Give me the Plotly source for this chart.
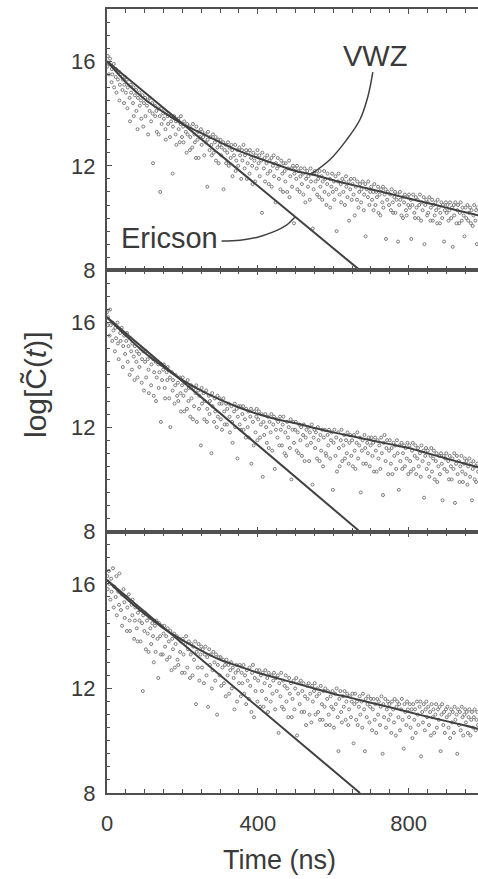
import plotly.graph_objects as go
from plotly.subplots import make_subplots

# ---------------- data ----------------
vwz_t = [0, 50, 100, 150, 200, 250, 300, 350, 400, 450, 500, 550, 600, 650, 700, 750, 800, 850, 900, 950, 1000]
vwz_y1 = [16.0, 15.2, 14.55, 14.05, 13.6, 13.25, 12.9, 12.57, 12.3, 12.05, 11.8, 11.65, 11.45, 11.27, 11.1, 10.93, 10.75, 10.58, 10.4, 10.22, 10.05]
vwz_y2 = [16.2, 15.5, 14.85, 14.3, 13.8, 13.4, 13.05, 12.75, 12.5, 12.3, 12.15, 11.97, 11.8, 11.65, 11.5, 11.35, 11.2, 11.0, 10.8, 10.6, 10.4]
vwz_y3 = [16.15, 15.45, 14.85, 14.3, 13.85, 13.45, 13.1, 12.85, 12.6, 12.4, 12.2, 12.0, 11.8, 11.63, 11.45, 11.28, 11.1, 10.92, 10.75, 10.58, 10.4]

ericson_t = [0, 671]
ericson_y1 = [16.0, 8.0]
ericson_y2 = [16.2, 8.0]
ericson_y3 = [16.15, 8.0]

vwz_leader_t = [705, 692, 671, 636, 591, 538]
vwz_leader_y = [15.58, 14.65, 13.77, 13.0, 12.23, 11.65]
eric_leader_t = [304, 353, 397, 441, 476, 498]
eric_leader_y = [9.12, 9.15, 9.26, 9.47, 9.73, 10.03]

pts1 = [(1,15.8),(2,16.2),(5,15.5),(6,15.9),(8,16.1),(12,15.2),(13,15.7),(14,15.5),(18,15.9),(19,15.0),(23,15.4),(24,15.7),(25,14.8),(29,15.3),(32,15.6),(33,14.5),(34,15.1),(37,15.5),(41,14.9),(42,15.3),(45,14.4),(46,15.1),(48,15.4),
(50,14.8),(53,15.3),(54,14.2),(55,15.0),(60,14.6),(61,13.7),(63,15.1),(64,14.8),(69,14.4),(70,15.0),(71,13.9),(74,14.7),(77,14.9),(78,14.1),(81,13.4),(82,14.6),(86,14.8),(87,14.3),(90,14.5),(91,13.8),(94,14.7),(96,13.5),(98,14.4),
(101,14.6),(102,13.9),(106,14.3),(108,14.5),(109,13.2),(113,14.1),(114,14.6),(117,13.7),(120,14.4),(121,14.0),(122,12.1),(127,14.3),(128,13.9),(131,14.1),(132,13.3),(136,14.2),(137,13.2),(140,13.9),(141,11.0),(144,14.2),(145,13.6),(149,14.0),
(151,13.8),(154,14.1),(155,13.4),(156,13.0),(161,13.9),(162,13.6),(164,14.0),(167,13.1),(170,13.7),(171,13.9),(174,11.7),(175,13.5),(178,13.9),(182,13.2),(183,13.7),(184,12.8),(189,13.8),(190,13.4),(193,12.9),(195,13.6),(196,13.9),(199,13.1),
(202,13.5),(203,12.9),(205,13.7),(209,13.3),(211,12.5),(213,13.6),(214,13.2),(219,13.5),(220,12.6),(221,13.1),(224,13.4),(226,12.7),(228,13.6),(232,13.2),(233,12.9),(236,12.3),(237,13.5),(240,13.0),(242,13.3),(243,12.3),(247,13.1),(249,13.4),
(251,12.8),(253,13.3),(255,13.1),(258,12.4),(261,13.2),(262,12.9),(266,11.2),(267,13.0),(268,13.3),(272,12.6),(274,13.1),(277,12.8),(278,12.4),(281,13.2),(283,12.5),(286,12.9),(288,13.1),(289,12.2),(293,12.7),(295,13.0),(296,12.1),(299,12.8),
(301,13.0),(303,12.4),(304,12.7),(308,12.9),(309,11.1),(312,12.6),(315,12.8),(316,12.1),(319,12.5),(321,12.9),(323,12.0),(325,12.7),(328,12.3),(330,12.8),(332,12.6),(333,11.6),(337,12.4),(340,12.8),(341,11.8),(343,12.2),(346,12.6),(348,12.0),
(351,12.7),(353,12.4),(356,11.5),(358,12.6),(359,12.2),(362,12.8),(365,11.9),(366,12.4),(369,12.6),(371,11.5),(373,12.1),(375,12.5),(378,11.7),(379,12.6),(382,12.3),(385,12.0),(386,11.3),(388,12.5),(391,12.2),(393,11.4),(395,12.4),(397,11.9),(399,12.6),
(402,12.1),(404,12.4),(405,11.6),(409,12.2),(411,10.2),(412,12.5),(416,11.9),(418,12.3),(419,11.4),(423,12.1),(425,12.4),(426,11.7),(429,11.3),(431,12.2),(433,11.8),(436,12.3),(437,11.2),(440,12.0),(442,12.4),(443,11.6),(447,10.6),(448,12.1),
(451,11.9),(453,12.3),(456,11.5),(457,12.0),(460,11.1),(462,12.2),(465,11.7),(467,11.0),(468,12.1),(471,11.8),(473,11.4),(474,12.1),(478,11.0),(480,11.9),(483,12.2),(484,10.8),(486,11.6),(489,11.9),(491,11.2),(493,12.0),(496,9.8),(497,11.7),(499,11.9),
(502,11.5),(504,12.0),(505,11.1),(508,11.8),(511,11.0),(513,11.6),(514,11.9),(517,11.3),(520,11.7),(521,10.9),(524,11.9),(526,10.6),(528,11.5),(531,11.8),(533,11.2),(534,11.6),(538,10.7),(540,11.9),(541,11.4),(545,11.7),(546,9.6),(548,11.1),
(551,11.8),(553,11.4),(556,11.7),(557,10.9),(560,11.5),(563,10.8),(564,11.8),(566,11.2),(569,11.6),(571,10.7),(572,11.4),(576,11.8),(577,11.0),(579,11.5),(582,10.5),(584,11.3),(585,11.7),(588,10.9),(591,11.5),(592,10.4),(595,11.2),(597,11.7),(599,11.0),
(602,11.4),(603,10.7),(606,11.6),(608,11.1),(609,9.5),(613,11.4),(614,11.7),(617,10.9),(620,11.3),(621,10.6),(624,11.5),(627,11.0),(628,11.4),(631,10.5),(634,11.6),(635,11.2),(638,10.8),(641,11.4),(642,9.9),(645,11.1),(647,11.5),(649,10.7),
(651,11.3),(654,10.9),(656,11.5),(657,10.1),(660,11.2),(663,10.7),(664,11.4),(667,10.4),(669,11.0),(671,11.3),(674,10.6),(675,11.1),(678,11.4),(681,10.3),(682,10.9),(685,11.3),(686,9.3),(689,11.1),(692,10.8),(693,11.4),(696,10.5),(698,11.0),
(701,11.2),(703,10.7),(706,11.0),(707,10.3),(709,11.3),(712,10.5),(714,11.0),(716,10.8),(719,11.2),(720,10.2),(723,10.9),(725,10.1),(727,11.1),(730,10.6),(732,11.2),(733,10.4),(736,10.9),(739,11.1),(740,9.2),(743,10.7),(745,11.0),(748,10.5),
(751,10.9),(753,10.3),(755,11.1),(758,10.6),(759,10.2),(762,10.8),(764,11.0),(765,10.2),(768,10.7),(770,10.9),(772,9.1),(775,10.5),(777,11.0),(778,10.7),(781,10.1),(784,10.8),(785,10.0),(788,10.6),(790,10.9),(793,10.3),(795,10.1),(797,10.8),(799,10.5),
(801,10.9),(803,10.4),(806,10.7),(807,9.2),(810,10.5),(812,10.9),(815,10.2),(817,10.0),(819,10.8),(821,10.4),(824,10.7),(826,10.0),(828,10.5),(830,10.9),(833,9.9),(835,10.6),(837,10.3),(840,10.8),(842,9.0),(844,10.5),(847,10.7),(849,10.1),
(851,10.6),(852,10.2),(855,10.8),(858,9.9),(859,10.4),(862,10.7),(864,9.9),(866,10.5),(869,10.1),(871,10.6),(873,10.3),(876,9.8),(877,10.7),(880,10.4),(883,9.8),(884,10.2),(887,10.6),(889,10.0),(891,10.5),(894,9.1),(896,10.3),(899,10.6),
(901,10.2),(903,10.5),(906,9.9),(908,10.3),(910,10.6),(913,10.0),(915,10.4),(917,8.9),(920,10.5),(921,10.1),(924,10.6),(927,9.8),(929,10.3),(931,10.5),(934,9.8),(936,10.2),(938,10.6),(941,9.9),(943,10.4),(946,10.1),(948,9.3),
(951,10.4),(953,10.0),(956,10.5),(958,9.9),(960,10.2),(963,10.4),(965,9.8),(967,10.3),(970,9.7),(972,10.1),(974,10.5),(977,9.9),(979,10.3),(981,9.0),(983,10.4)]

pts2 = [(0,16.4),(2,15.9),(3,16.2),(7,15.5),(8,16.5),(10,15.9),(14,15.3),(15,16.0),(17,15.7),(21,14.9),(22,15.8),(24,15.4),(28,16.0),(29,15.2),(31,14.6),(35,15.6),(36,15.3),(39,15.8),(42,14.3),(43,15.1),(46,15.5),(48,14.8),
(51,15.3),(53,15.6),(55,14.5),(57,15.1),(60,14.0),(61,15.4),(64,14.9),(66,14.2),(67,15.2),(71,14.7),(73,13.8),(74,15.1),(78,14.5),(79,14.9),(81,13.9),(85,14.8),(86,14.3),(89,15.0),(92,13.7),(93,14.6),(96,14.9),(98,13.4),
(101,14.5),(103,14.9),(104,13.9),(108,14.6),(110,14.2),(111,13.3),(115,14.7),(117,13.6),(118,14.4),(122,14.6),(124,13.2),(125,14.1),(129,14.5),(130,13.0),(132,13.9),(136,14.4),(137,13.5),(139,14.1),(143,12.2),(144,14.4),(146,13.8),(149,14.2),
(151,14.4),(153,13.5),(154,13.1),(158,14.1),(160,13.8),(161,14.3),(165,13.1),(167,13.9),(168,12.0),(172,14.1),(174,13.4),(175,13.8),(179,12.9),(181,13.6),(182,14.0),(186,13.2),(188,13.7),(189,13.0),(193,13.9),(195,13.3),(196,12.6),(199,13.6),
(201,13.9),(203,13.2),(205,12.6),(207,13.7),(209,13.4),(212,12.7),(214,13.8),(216,13.0),(217,13.5),(221,12.4),(223,13.6),(224,13.1),(228,12.3),(230,13.5),(231,12.8),(235,13.3),(237,13.6),(238,12.2),(242,13.4),(244,12.7),(245,13.2),(249,11.3),
(251,13.5),(252,12.9),(256,13.3),(258,12.3),(259,13.0),(263,13.4),(265,12.2),(266,12.7),(270,13.2),(272,12.5),(273,13.0),(277,11.0),(279,13.3),(280,12.8),(284,12.2),(286,13.1),(287,12.6),(291,12.0),(293,13.2),(294,12.4),(298,12.9),(299,13.1),
(302,12.3),(304,12.9),(305,11.9),(309,13.1),(311,12.6),(312,12.1),(316,12.9),(318,12.1),(319,12.7),(323,12.9),(325,12.4),(326,11.8),(330,12.8),(332,12.2),(333,11.4),(337,12.6),(339,12.9),(340,12.0),(344,12.7),(346,10.8),(347,12.4),(349,12.8),
(352,12.1),(354,12.8),(355,11.9),(359,12.5),(361,12.8),(362,11.9),(366,12.3),(368,11.6),(369,12.7),(373,12.0),(375,12.6),(376,11.6),(380,12.4),(382,12.7),(383,10.6),(387,12.2),(389,11.3),(390,12.6),(394,11.8),(396,12.4),(397,12.7),(399,11.5),
(401,12.3),(403,12.6),(406,11.6),(408,12.1),(410,12.5),(413,10.1),(415,12.2),(417,11.7),(420,12.5),(422,12.0),(424,11.4),(427,12.4),(429,11.2),(431,12.2),(434,11.8),(436,12.5),(438,11.1),(441,12.1),(443,12.4),(445,10.4),(448,11.9),(450,12.3),
(452,11.6),(454,12.2),(457,11.3),(459,12.4),(461,11.9),(464,11.3),(466,12.1),(468,12.4),(471,11.0),(473,11.8),(475,10.9),(478,12.2),(480,11.6),(482,12.0),(485,11.2),(487,12.3),(489,10.0),(492,11.9),(494,12.2),(496,11.4),(499,11.9),
(501,12.2),(503,11.1),(506,11.8),(508,11.0),(510,12.1),(513,11.5),(515,12.0),(517,10.9),(520,11.7),(522,12.1),(524,10.7),(527,11.6),(529,11.9),(531,11.3),(534,12.0),(536,10.7),(538,11.8),(541,11.4),(543,12.1),(545,9.8),(548,11.6),(550,11.9),
(552,11.2),(554,11.8),(557,10.8),(559,12.0),(561,11.5),(564,10.7),(566,11.7),(568,11.1),(571,11.9),(573,10.5),(575,11.6),(578,11.9),(580,11.0),(582,10.9),(585,11.7),(587,11.3),(589,11.9),(592,10.8),(594,11.5),(596,11.8),(599,9.6),
(601,11.4),(603,11.9),(606,10.9),(608,11.6),(610,10.3),(613,11.8),(615,11.2),(617,10.5),(620,11.5),(622,11.9),(624,10.7),(627,11.3),(629,11.7),(631,10.8),(634,11.5),(636,11.0),(638,11.8),(641,10.6),(643,11.4),(645,11.7),(648,10.9),
(650,11.5),(652,10.5),(655,11.7),(657,11.1),(659,10.4),(662,11.4),(664,11.8),(666,10.8),(669,11.3),(671,11.6),(673,9.5),(676,11.1),(678,11.5),(680,10.6),(683,11.7),(685,11.2),(687,10.6),(690,11.4),(692,11.0),(694,11.6),(697,10.5),(699,11.3),
(701,11.6),(704,10.9),(706,11.4),(708,10.3),(711,11.6),(713,11.1),(715,10.3),(718,11.5),(720,10.8),(722,11.3),(725,10.4),(727,11.6),(729,11.0),(732,9.4),(734,11.4),(736,11.7),(739,10.7),(741,11.2),(743,11.5),(746,10.2),(748,11.1),
(750,11.5),(753,10.6),(755,11.2),(757,10.2),(760,11.4),(762,10.9),(764,11.3),(767,10.4),(769,11.5),(771,11.0),(774,9.6),(776,11.3),(778,10.7),(781,11.4),(783,10.4),(785,11.0),(788,11.3),(790,10.5),(792,11.2),(795,10.8),(797,11.4),(799,10.2),
(802,11.3),(804,10.7),(806,10.3),(809,11.1),(811,11.4),(813,10.4),(816,10.9),(818,11.3),(820,10.2),(823,10.8),(825,11.2),(827,10.5),(830,11.0),(832,10.1),(834,11.3),(837,10.7),(839,11.1),(841,9.3),(844,10.9),(846,11.2),(848,10.4),
(851,11.1),(853,10.6),(855,10.1),(858,10.9),(860,11.2),(862,10.3),(865,10.8),(867,11.1),(869,10.0),(872,10.7),(874,11.0),(876,9.9),(879,10.5),(881,10.9),(883,10.2),(886,11.0),(888,10.6),(890,9.2),(893,10.9),(895,10.4),(897,10.8),
(900,11.0),(902,10.3),(905,10.7),(907,10.0),(909,10.9),(912,10.5),(914,10.0),(916,10.8),(919,10.4),(921,11.0),(923,9.1),(926,10.6),(928,10.9),(930,10.2),(933,10.7),(935,9.9),(937,10.5),(940,10.9),(942,10.3),(944,9.9),(947,10.6),(949,10.8),
(951,10.2),(954,10.7),(956,9.8),(958,10.5),(961,10.8),(963,10.1),(965,10.6),(968,9.2),(970,10.4),(972,10.7),(975,10.0),(977,10.5),(979,9.9),(982,10.6),(984,10.3)]

pts3 = [(1,16.3),(2,15.8),(5,16.5),(6,16.0),(9,15.4),(11,16.2),(12,15.7),(16,16.6),(18,15.1),(19,15.9),(23,15.5),(25,16.3),(26,14.8),(30,15.7),(32,15.2),(33,16.4),(37,15.0),(39,15.6),(40,14.4),(44,15.8),(46,15.3),(47,14.7),
(51,15.5),(53,14.2),(54,15.1),(58,15.6),(60,14.6),(61,14.2),(65,15.2),(67,14.8),(68,15.4),(72,13.9),(74,14.6),(75,15.1),(79,14.3),(81,13.8),(82,14.9),(86,14.6),(88,15.0),(89,13.8),(93,14.5),(95,11.9),(96,14.8),(99,14.2),
(101,14.9),(103,13.5),(106,14.6),(108,14.1),(110,13.4),(113,14.7),(115,14.3),(117,13.7),(120,14.5),(122,14.0),(124,13.0),(127,14.4),(129,13.4),(131,14.6),(134,13.9),(136,12.4),(138,14.5),(141,14.0),(143,13.3),(145,14.4),(148,13.3),(150,14.1),
(152,14.4),(154,13.6),(157,14.0),(159,13.1),(161,14.3),(164,13.8),(166,13.2),(168,14.2),(171,12.7),(173,13.9),(175,13.5),(178,14.1),(180,12.8),(182,13.7),(185,14.0),(187,13.1),(189,12.9),(192,13.9),(194,13.4),(196,13.8),(199,12.6),
(201,13.9),(203,13.3),(206,12.6),(208,13.7),(210,14.0),(213,12.8),(215,13.5),(217,13.8),(220,12.4),(222,13.3),(224,13.7),(227,12.5),(229,13.6),(231,13.1),(234,13.8),(236,11.4),(238,13.4),(241,12.8),(243,13.7),(245,12.3),(248,13.3),(250,13.6),
(252,12.8),(254,13.5),(257,12.2),(259,13.3),(261,13.6),(264,12.5),(266,13.2),(268,11.3),(271,13.5),(273,12.9),(275,13.3),(278,12.0),(280,12.7),(282,13.4),(285,13.0),(287,12.3),(289,13.3),(292,11.0),(294,12.9),(296,13.2),(299,12.5),
(301,13.2),(303,12.1),(306,12.8),(308,13.1),(310,12.2),(313,12.9),(315,11.7),(317,13.1),(320,12.5),(322,12.9),(324,11.8),(327,12.7),(329,13.0),(331,12.0),(334,12.8),(336,12.4),(338,11.2),(341,12.6),(343,12.9),(345,11.5),(348,12.7),(350,12.2),
(352,12.9),(355,11.7),(357,12.6),(359,12.2),(362,12.9),(364,11.8),(366,12.5),(369,11.4),(371,12.7),(373,12.3),(376,11.6),(378,12.8),(380,12.1),(383,11.1),(385,12.6),(387,12.9),(390,10.9),(392,12.4),(394,11.9),(397,12.7),(399,11.5),
(401,12.3),(404,12.7),(406,11.3),(408,12.5),(411,11.9),(413,12.6),(415,11.3),(418,12.2),(420,12.7),(422,11.6),(425,12.4),(427,11.1),(429,12.6),(432,12.1),(434,11.5),(436,12.5),(439,11.8),(441,12.3),(443,12.6),(446,11.2),(448,12.4),(450,11.9),
(453,12.5),(455,10.3),(457,12.2),(460,11.7),(462,12.6),(464,11.3),(467,12.3),(469,11.2),(471,12.1),(474,12.5),(476,11.5),(478,12.0),(481,10.9),(483,12.4),(485,11.8),(488,12.2),(490,10.9),(492,11.6),(495,12.3),(497,11.2),(499,12.0),
(502,12.4),(504,10.2),(507,11.8),(509,12.2),(511,11.4),(514,12.3),(516,11.1),(518,11.9),(521,12.2),(523,11.1),(525,11.7),(528,10.6),(530,12.1),(532,11.6),(535,12.2),(537,11.0),(539,11.8),(542,10.7),(544,12.1),(546,11.5),(549,11.9),
(551,12.2),(553,11.0),(556,11.7),(558,12.0),(560,11.1),(563,11.8),(565,10.8),(567,12.1),(570,11.4),(572,10.8),(574,11.9),(577,11.3),(579,12.0),(581,10.6),(584,11.6),(586,11.9),(588,11.0),(591,10.6),(593,11.7),(595,11.3),(598,11.9),
(600,11.2),(602,10.5),(605,11.8),(607,11.4),(609,12.0),(612,10.9),(614,9.6),(616,11.6),(619,11.9),(621,11.1),(623,10.7),(626,11.7),(628,11.3),(630,11.9),(633,10.8),(635,11.5),(637,11.8),(640,10.6),(642,11.2),(644,11.7),(647,10.9),(649,11.5),
(651,11.8),(654,9.9),(656,11.4),(658,11.8),(661,10.8),(663,11.5),(665,10.6),(668,11.3),(670,11.7),(672,11.0),(675,11.5),(677,10.5),(679,11.8),(682,11.2),(684,9.6),(686,11.6),(689,10.9),(691,11.4),(693,11.7),(696,10.7),(698,11.3),
(700,11.6),(703,10.4),(705,11.2),(707,11.6),(710,10.8),(712,11.4),(714,10.3),(717,11.6),(719,11.0),(721,11.5),(724,10.6),(726,11.3),(728,11.7),(731,9.5),(733,11.4),(735,10.9),(738,11.6),(740,10.5),(742,11.2),(745,11.5),(747,10.8),(749,11.4),
(752,11.0),(754,10.3),(756,11.5),(759,11.2),(761,10.7),(763,11.6),(766,10.2),(768,11.3),(770,11.5),(773,10.9),(775,11.4),(777,10.4),(780,11.2),(782,11.6),(784,10.8),(787,9.7),(789,11.4),(791,11.1),(794,10.6),(796,11.5),(798,11.2),
(801,10.9),(803,11.4),(805,10.5),(808,11.2),(810,10.1),(812,11.4),(815,10.8),(817,11.2),(819,10.3),(822,11.5),(824,11.0),(826,10.6),(829,11.3),(831,11.5),(833,9.4),(836,11.1),(838,10.7),(840,11.4),(843,10.4),(845,11.2),(847,11.5),(849,10.9),
(852,11.3),(854,10.6),(857,11.1),(859,10.2),(861,11.4),(864,10.9),(866,11.2),(868,10.3),(871,11.0),(873,11.4),(875,10.5),(878,11.2),(880,10.8),(882,11.3),(885,9.6),(887,11.0),(889,11.4),(892,10.6),(894,11.1),(896,10.3),(899,11.2),
(901,10.9),(903,11.3),(906,10.5),(908,11.0),(910,10.1),(913,11.2),(915,10.7),(917,11.1),(920,10.3),(922,11.3),(924,10.8),(927,11.0),(929,9.5),(931,11.2),(934,10.6),(936,11.1),(938,10.4),(941,11.3),(943,10.9),(945,10.2),(948,11.0),(950,11.2),
(952,10.7),(954,11.1),(957,10.3),(959,10.9),(961,11.2),(964,10.2),(966,10.8),(968,11.1),(971,10.5),(973,10.9),(975,11.2),(978,10.4),(980,10.8),(982,11.1),(984,10.6)]

x_ticks = [0, 400, 800]
y_ticks = [8, 12, 16]

# ---------------- figure ----------------
FONT = "Liberation Sans, Arial, Helvetica, sans-serif"
INK = "#3a3a3a"
AX = "#505050"

fig = make_subplots(rows=3, cols=1, shared_xaxes=True, vertical_spacing=0)

panels = [(pts1, vwz_y1, ericson_y1), (pts2, vwz_y2, ericson_y2), (pts3, vwz_y3, ericson_y3)]
for i, (pts, vy, ey) in enumerate(panels, start=1):
    fig.add_trace(go.Scatter(x=[p[0] for p in pts], y=[p[1] for p in pts], mode="markers",
                             marker=dict(size=3, color="#7a7a7a", symbol="circle-open", line=dict(width=1, color="#7a7a7a")),
                             showlegend=False, hoverinfo="skip"), row=i, col=1)
    fig.add_trace(go.Scatter(x=vwz_t, y=vy, mode="lines", line=dict(color="#404040", width=2, shape="spline"),
                             showlegend=False), row=i, col=1)
    fig.add_trace(go.Scatter(x=ericson_t, y=ey, mode="lines", line=dict(color="#404040", width=2),
                             showlegend=False), row=i, col=1)

fig.add_trace(go.Scatter(x=vwz_leader_t, y=vwz_leader_y, mode="lines",
                         line=dict(color="#404040", width=1.5, shape="spline"), showlegend=False), row=1, col=1)
fig.add_trace(go.Scatter(x=eric_leader_t, y=eric_leader_y, mode="lines",
                         line=dict(color="#404040", width=1.5, shape="spline"), showlegend=False), row=1, col=1)

tickfont = dict(family=FONT, size=22, color=INK)
fig.update_xaxes(range=[0, 984], tickvals=x_ticks, ticks="inside", ticklen=5, tickwidth=1.2, tickcolor=AX,
                 minor=dict(tickmode="linear", tick0=0, dtick=50, ticks="inside", ticklen=4, tickcolor=AX, tickwidth=1.2),
                 showline=True, linecolor=AX, linewidth=2, mirror="allticks", showgrid=False, zeroline=False,
                 tickfont=tickfont, ticklabelstandoff=10)
fig.update_yaxes(range=[8, 18], tickvals=y_ticks, ticks="inside", ticklen=5, tickwidth=1.2, tickcolor=AX,
                 minor=dict(tickmode="linear", tick0=8, dtick=0.5, ticks="inside", ticklen=3, tickcolor=AX, tickwidth=1.2),
                 showline=True, linecolor=AX, linewidth=2, showgrid=False, zeroline=False,
                 tickfont=tickfont, ticklabelstandoff=5)

fig.add_annotation(x=710, y=16.2, xref="x", yref="y", text="VWZ", showarrow=False,
                   xanchor="center", yanchor="middle", font=dict(family=FONT, size=29, color=INK))
fig.add_annotation(x=167, y=9.23, xref="x", yref="y", text="Ericson", showarrow=False,
                   xanchor="center", yanchor="middle", font=dict(family=FONT, size=29, color=INK))
fig.add_annotation(x=(279 - 107) / 371, y=(793 - 860) / 784, xref="paper", yref="paper",
                   text="Time (ns)", showarrow=False, xanchor="center", yanchor="middle",
                   font=dict(family=FONT, size=27, color=INK))
fig.add_annotation(x=(35 - 107) / 371, y=(793 - 385) / 784, xref="paper", yref="paper",
                   text="log[C\u0303(<i>t</i>)]", textangle=-90, showarrow=False,
                   xanchor="center", yanchor="middle",
                   font=dict(family=FONT, size=30, color=INK))

fig.update_layout(width=478, height=879, margin=dict(l=107, r=0, t=9, b=86),
                  paper_bgcolor="white", plot_bgcolor="white", showlegend=False)

fig.write_html("out.html")
